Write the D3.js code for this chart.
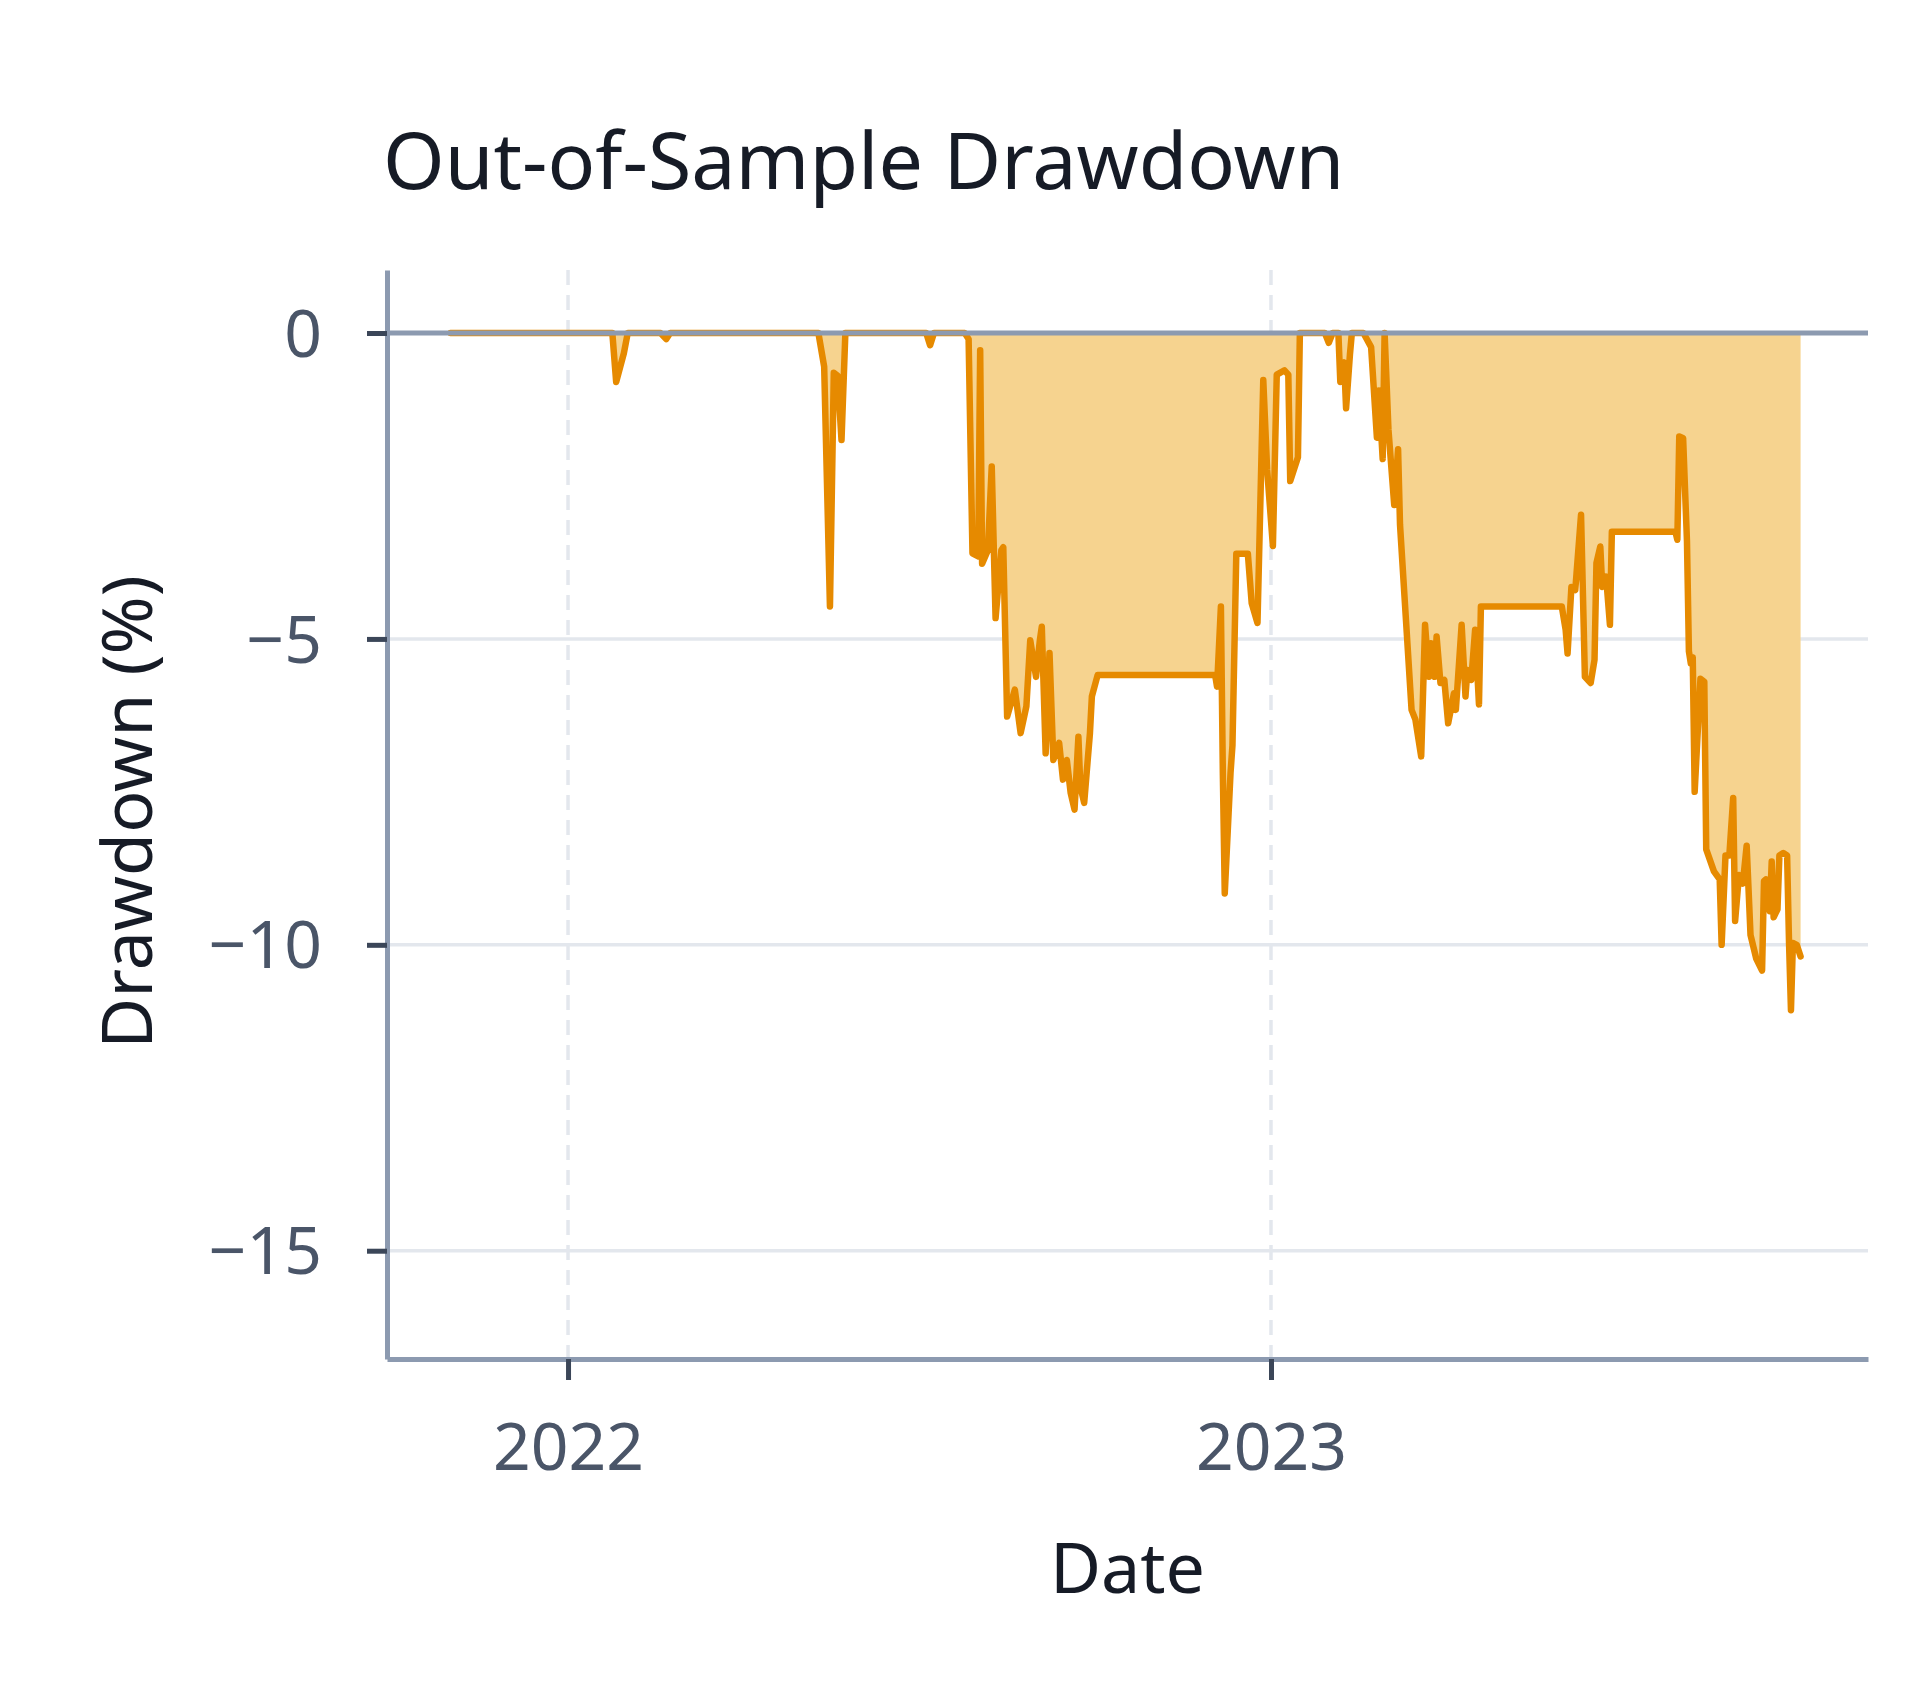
<!DOCTYPE html>
<html>
<head>
<meta charset="utf-8">
<script src="https://cdn.jsdelivr.net/npm/d3@7"></script>
<style>
  html, body { margin: 0; padding: 0; background: #ffffff; }
  svg { display: block; }
</style>
</head>
<body>
<svg id="chart" width="1920" height="1694"></svg>
<script>
// ---------------- data ----------------
const dates = [
  "2021-11-01","2022-01-24","2022-01-26","2022-01-30","2022-02-01","2022-02-18","2022-02-21","2022-02-23",
  "2022-05-11","2022-05-14","2022-05-17","2022-05-19","2022-05-21","2022-05-23","2022-05-25",
  "2022-07-06","2022-07-08","2022-07-10","2022-07-26","2022-07-28","2022-07-30",
  "2022-08-02","2022-08-03","2022-08-04","2022-08-07","2022-08-09","2022-08-11","2022-08-14","2022-08-15",
  "2022-08-17","2022-08-21","2022-08-24","2022-08-27","2022-08-29","2022-09-01","2022-09-03","2022-09-04",
  "2022-09-06","2022-09-08","2022-09-10","2022-09-13","2022-09-15","2022-09-17","2022-09-19","2022-09-21",
  "2022-09-23","2022-09-24","2022-09-26","2022-09-29","2022-09-30","2022-10-03",
  "2022-12-03","2022-12-04","2022-12-06","2022-12-07","2022-12-08","2022-12-11","2022-12-12","2022-12-14",
  "2022-12-20","2022-12-22","2022-12-25","2022-12-28","2022-12-30",
  "2023-01-02","2023-01-04","2023-01-08","2023-01-10","2023-01-11","2023-01-15","2023-01-16","2023-01-29",
  "2023-01-31","2023-02-02","2023-02-05","2023-02-06","2023-02-08","2023-02-09","2023-02-11","2023-02-12",
  "2023-02-18","2023-02-22","2023-02-25","2023-02-26","2023-02-28","2023-03-01","2023-03-03","2023-03-06",
  "2023-03-08","2023-03-09","2023-03-15","2023-03-17","2023-03-20","2023-03-22","2023-03-24","2023-03-25",
  "2023-03-27","2023-03-28","2023-03-30","2023-04-01","2023-04-03","2023-04-06","2023-04-07","2023-04-10",
  "2023-04-12","2023-04-13","2023-04-15","2023-04-17","2023-04-19","2023-04-20",
  "2023-06-01","2023-06-03","2023-06-04","2023-06-06","2023-06-08","2023-06-11","2023-06-13","2023-06-16",
  "2023-06-18","2023-06-19","2023-06-21","2023-06-22","2023-06-24","2023-06-26","2023-06-27",
  "2023-07-30","2023-07-31","2023-08-01","2023-08-03","2023-08-05","2023-08-06","2023-08-07","2023-08-08",
  "2023-08-09","2023-08-12","2023-08-14","2023-08-15","2023-08-19","2023-08-22","2023-08-23","2023-08-25",
  "2023-08-27","2023-08-29","2023-08-30","2023-09-01","2023-09-03","2023-09-05","2023-09-07","2023-09-10",
  "2023-09-13","2023-09-14","2023-09-15","2023-09-17","2023-09-18","2023-09-19","2023-09-21","2023-09-22",
  "2023-09-24","2023-09-26","2023-09-27","2023-09-28","2023-09-29","2023-10-01","2023-10-03"
];
const drawdown = [
  0, 0, -0.8, -0.33, 0, 0, -0.1, 0,
  0, -0.55, -4.47, -0.65, -0.7, -1.75, 0,
  0, -0.2, 0, 0, -0.1, -3.6,
  -3.65, -0.28, -3.77, -3.55, -2.18, -4.66, -3.55, -3.5,
  -6.27, -5.83, -6.54, -6.1, -5.02, -5.62, -5.02, -4.8,
  -6.87, -5.23, -6.98, -6.7, -7.3, -6.98, -7.52, -7.79,
  -6.6, -7.41, -7.68, -6.54, -5.94, -5.59,
  -5.59, -5.78, -4.47, -7.19, -9.16, -7.19, -6.74, -3.61,
  -3.61, -4.42, -4.74, -0.77, -2.23,
  -3.48, -0.68, -0.61, -0.68, -2.42, -2.03, 0, 0,
  -0.16, 0, 0, -0.8, -0.48, -1.23, -0.35, 0,
  0, -0.23, -1.71, -0.94, -2.06, 0, -1.58, -2.81,
  -1.9, -3.13, -6.16, -6.32, -6.92, -4.77, -5.62, -5.07,
  -5.62, -4.96, -5.72, -5.67, -6.38, -5.89, -6.16, -4.77,
  -5.94, -5.51, -5.67, -4.85, -6.07, -4.47,
  -4.47, -4.85, -5.24, -4.15, -4.2, -2.97, -5.62, -5.72,
  -5.34, -3.76, -3.49, -4.15, -3.98, -4.77, -3.25,
  -3.25, -3.38, -1.69, -1.72, -3.4, -5.2, -5.4, -5.3,
  -7.5, -5.65, -5.7, -8.44, -8.8, -8.93, -10.0, -8.54,
  -8.54, -7.6, -9.61, -8.86, -9.0, -8.38, -9.84, -10.23,
  -10.42, -8.96, -8.93, -9.45, -8.64, -9.55, -9.42, -8.54,
  -8.5, -8.54, -9.97, -11.07, -9.97, -10.0, -10.19
];
const yTickValues = [0, -5, -10, -15];
const xTickDates = ["2022-01-01", "2023-01-01"];
const xTickLabels = ["2022", "2023"];
const xDomain = ["2021-09-29", "2023-11-07"];
const yDomain = [-16.77, 1.03];
const titleText = "Out-of-Sample Drawdown";
const xLabelText = "Date";
const yLabelText = "Drawdown (%)";

// ---------------- layout / style ----------------
const parse = d3.utcParse("%Y-%m-%d");
const M = { left: 387, right: 1868, top: 270, bottom: 1359 };
const FONT = "'Noto Sans', 'Open Sans', sans-serif";
const AXIS_COLOR = "#8c9ab0";
const TICK_COLOR = "#3b4658";
const GRID_COLOR = "#e3e7ed";
const LINE_COLOR = "#e68a00";
const FILL_COLOR = "#f6d38f";

const data = dates.map((d, i) => ({ date: parse(d), v: drawdown[i] }));

const x = d3.scaleUtc().domain(xDomain.map(parse)).range([M.left, M.right]);
const y = d3.scaleLinear().domain(yDomain).range([M.bottom, M.top]);

const svg = d3.select("#chart");

// horizontal grid
svg.append("g").selectAll("line")
  .data(yTickValues.filter(v => v !== 0))
  .join("line")
  .attr("x1", M.left).attr("x2", M.right)
  .attr("y1", d => y(d)).attr("y2", d => y(d))
  .attr("stroke", GRID_COLOR).attr("stroke-width", 3.5);

// vertical dashed grid
svg.append("g").selectAll("line")
  .data(xTickDates.map(parse))
  .join("line")
  .attr("x1", d => x(d)).attr("x2", d => x(d))
  .attr("y1", M.top).attr("y2", M.bottom)
  .attr("stroke", GRID_COLOR).attr("stroke-width", 3.5)
  .attr("stroke-dasharray", "15,10");

// area fill
const area = d3.area()
  .x(d => x(d.date))
  .y0(y(0))
  .y1(d => y(d.v));
svg.append("path").datum(data)
  .attr("d", area)
  .attr("fill", FILL_COLOR);

// line
const line = d3.line().x(d => x(d.date)).y(d => y(d.v));
svg.append("path").datum(data)
  .attr("d", line)
  .attr("fill", "none")
  .attr("stroke", LINE_COLOR)
  .attr("stroke-width", 6.5)
  .attr("stroke-linejoin", "round")
  .attr("stroke-linecap", "round");

// zero reference line
svg.append("line")
  .attr("x1", M.left).attr("x2", M.right)
  .attr("y1", y(0)).attr("y2", y(0))
  .attr("stroke", AXIS_COLOR).attr("stroke-width", 5);

// y axis
const yAxis = d3.axisLeft(y)
  .tickValues(yTickValues)
  .tickSize(20)
  .tickSizeOuter(0)
  .tickPadding(45)
  .tickFormat(d3.format("d"));
const gy = svg.append("g").attr("transform", `translate(${M.left},0)`).call(yAxis);
gy.select(".domain").attr("stroke", AXIS_COLOR).attr("stroke-width", 5);
gy.selectAll(".tick line").attr("stroke", TICK_COLOR).attr("stroke-width", 5);
gy.selectAll(".tick text")
  .attr("font-family", FONT).attr("font-size", 66).attr("fill", "#4a5568")
  .attr("dy", "0.35em");

// x axis
const xAxis = d3.axisBottom(x)
  .tickValues(xTickDates.map(parse))
  .tickSize(21)
  .tickSizeOuter(0)
  .tickFormat((d, i) => xTickLabels[i]);
const gx = svg.append("g").attr("transform", `translate(0,${M.bottom})`).call(xAxis);
gx.select(".domain").attr("stroke", AXIS_COLOR).attr("stroke-width", 5);
gx.selectAll(".tick line").attr("stroke", TICK_COLOR).attr("stroke-width", 5);
gx.selectAll(".tick text")
  .attr("font-family", FONT).attr("font-size", 66).attr("fill", "#4a5568")
  .attr("y", 111).attr("dy", 0);

// title
svg.append("text")
  .attr("x", 383).attr("y", 189)
  .attr("font-family", FONT).attr("font-size", 79)
  .attr("fill", "#161b26")
  .text(titleText);

// x label
svg.append("text")
  .attr("x", (M.left + M.right) / 2).attr("y", 1593)
  .attr("text-anchor", "middle")
  .attr("font-family", FONT).attr("font-size", 70)
  .attr("fill", "#161b26")
  .text(xLabelText);

// y label
svg.append("text")
  .attr("transform", "translate(152,812) rotate(-90)")
  .attr("text-anchor", "middle")
  .attr("font-family", FONT).attr("font-size", 70)
  .attr("fill", "#161b26")
  .text(yLabelText);
</script>
</body>
</html>
